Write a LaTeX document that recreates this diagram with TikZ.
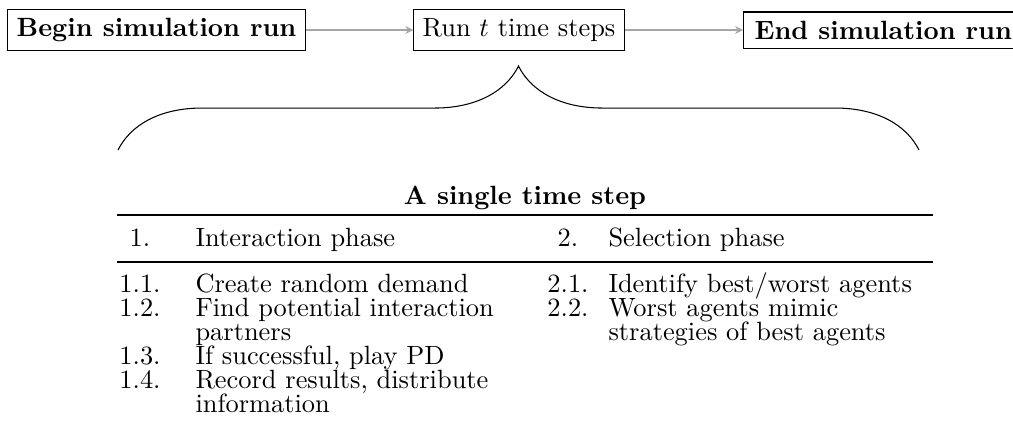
\documentclass[tikz,border=0pt]{standalone}
\usetikzlibrary{arrows.meta,decorations.pathreplacing}
\begin{document}
\begin{tikzpicture}[x=0.3788pt,y=-0.3788pt,
  box/.style={draw,inner sep=3.33pt,line width=0.4pt},
  arr/.style={draw=gray!70,line width=0.5pt,-{Stealth[length=3pt,width=3pt]}},
  txt/.style={inner sep=0pt,anchor=base west},
  num/.style={inner sep=0pt,anchor=base}]
\useasboundingbox (0,0) rectangle (1013,426);
% top row
\node[box] (begin) at (156.5,30) {\textbf{Begin simulation run}};
\node[box] (run) at (519,30) {Run $t$ time steps};
\node[box,anchor=west,inner xsep=4.2pt] (end) at (743,30) {\textbf{End simulation run}};
\draw[arr] (begin) -- (run);
\draw[arr] (run) -- (end);
% brace
\coordinate (bl) at (118,150);
\coordinate (br) at (919,150);
\draw[line width=0.4pt,decorate,decoration={brace,amplitude=31.8pt}] (bl) -- (br);
% table
\node[num] (title) at (525,204) {\textbf{A single time step}};
\coordinate (tl) at (117,215); \coordinate (tr) at (933,215);
\draw[line width=0.8pt] (tl) -- (tr);
\node[num] (h1n) at (140,246) {1.};
\node[txt] (h1t) at (195,246) {Interaction phase};
\node[num] (h2n) at (568,246) {2.};
\node[txt] (h2t) at (608,246) {Selection phase};
\coordinate (ml) at (117,262); \coordinate (mr) at (933,262);
\draw[line width=0.5pt] (ml) -- (mr);
% left items
\node[num] (a1n) at (140,292) {1.1.};
\node[txt] (a1t) at (195,292) {Create random demand};
\node[num] (a2n) at (140,316) {1.2.};
\node[txt] (a2t) at (195,316) {Find potential interaction};
\node[txt] (a2u) at (195,340) {partners};
\node[num] (a3n) at (140,364) {1.3.};
\node[txt] (a3t) at (195,364) {If successful, play PD};
\node[num] (a4n) at (140,388) {1.4.};
\node[txt] (a4t) at (195,388) {Record results, distribute};
\node[txt] (a4u) at (195,412) {information};
% right items
\node[num] (b1n) at (568,292) {2.1.};
\node[txt] (b1t) at (608,292) {Identify best/worst agents};
\node[num] (b2n) at (568,316) {2.2.};
\node[txt] (b2t) at (608,316) {Worst agents mimic};
\node[txt] (b2u) at (608,340) {strategies of best agents};
\end{tikzpicture}
\end{document}
